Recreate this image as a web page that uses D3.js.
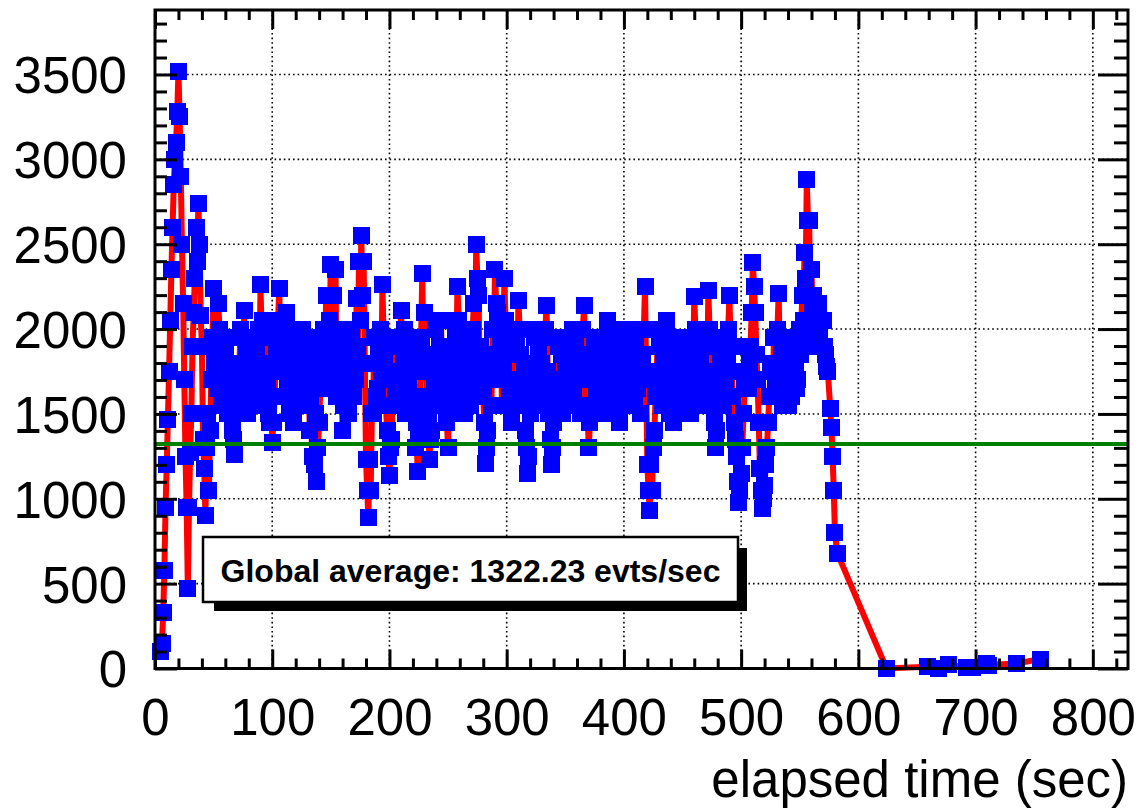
<!DOCTYPE html>
<html>
<head>
<meta charset="utf-8">
<script src="https://cdn.jsdelivr.net/npm/d3@7"></script>
<style>
  html, body { margin: 0; padding: 0; background: #fff; }
  svg { display: block; }
</style>
</head>
<body>
<script>
// event rate vs elapsed time
const times = [
  5, 6, 7, 8, 9, 10, 11, 12, 13, 14, 15, 16, 17, 18, 19, 20, 21, 22, 23, 24, 25, 26, 27, 28, 29,
  30, 31, 32, 33, 34, 35, 36, 37, 38, 39, 40, 41, 42, 43, 44, 45,
  46, 47, 48, 49, 50, 51, 52, 53, 54, 55, 56, 57, 58, 59, 60, 61, 62, 63, 64, 65,
  66, 67, 68, 69, 70, 71, 72, 73, 74, 75, 76, 77, 78, 79, 80, 81, 82, 83, 84, 85,
  86, 87, 88, 89, 90, 91, 92, 93, 94, 95, 96, 97, 98, 99, 100, 101, 102, 103, 104, 105,
  106, 107, 108, 109, 110, 111, 112, 113, 114, 115, 116, 117, 118, 119, 120, 121, 122, 123, 124, 125,
  126, 127, 128, 129, 130, 131, 132, 133, 134, 135, 136, 137, 138, 139, 140, 141, 142, 143, 144, 145,
  146, 147, 148, 149, 150, 151, 152, 153, 154, 155, 156, 157, 158, 159, 160, 161, 162, 163, 164, 165,
  166, 167, 168, 169, 170, 171, 172, 173, 174, 175, 176, 177, 178, 179, 180, 181, 182, 183, 184, 185,
  186, 187, 188, 189, 190, 191, 192, 193, 194, 195, 196, 197, 198, 199, 200, 201, 202, 203, 204, 205,
  206, 207, 208, 209, 210, 211, 212, 213, 214, 215, 216, 217, 218, 219, 220, 221, 222, 223, 224, 225,
  226, 227, 228, 229, 230, 231, 232, 233, 234, 235, 236, 237, 238, 239, 240, 241, 242, 243, 244, 245,
  246, 247, 248, 249, 250, 251, 252, 253, 254, 255, 256, 257, 258, 259, 260, 261, 262, 263, 264, 265,
  266, 267, 268, 269, 270, 271, 272, 273, 274, 275, 276, 277, 278, 279, 280, 281, 282, 283, 284, 285,
  286, 287, 288, 289, 290, 291, 292, 293, 294, 295, 296, 297, 298, 299, 300, 301, 302, 303, 304, 305,
  306, 307, 308, 309, 310, 311, 312, 313, 314, 315, 316, 317, 318, 319, 320, 321, 322, 323, 324, 325,
  326, 327, 328, 329, 330, 331, 332, 333, 334, 335, 336, 337, 338, 339, 340, 341, 342, 343, 344, 345,
  346, 347, 348, 349, 350, 351, 352, 353, 354, 355, 356, 357, 358, 359, 360, 361, 362, 363, 364, 365,
  366, 367, 368, 369, 370, 371, 372, 373, 374, 375, 376, 377, 378, 379, 380, 381, 382, 383, 384, 385,
  386, 387, 388, 389, 390, 391, 392, 393, 394, 395, 396, 397, 398, 399, 400, 401, 402, 403, 404, 405,
  406, 407, 408, 409, 410, 411, 412, 413, 414, 415, 416, 417, 418, 419, 420, 421, 422, 423, 424, 425,
  426, 427, 428, 429, 430, 431, 432, 433, 434, 435, 436, 437, 438, 439, 440, 441, 442, 443, 444, 445,
  446, 447, 448, 449, 450, 451, 452, 453, 454, 455, 456, 457, 458, 459, 460, 461, 462, 463, 464, 465,
  466, 467, 468, 469, 470, 471, 472, 473, 474, 475, 476, 477, 478, 479, 480, 481, 482, 483, 484, 485,
  486, 487, 488, 489, 490, 491, 492, 493, 494, 495, 496, 497, 498, 499, 500, 501, 502, 503, 504, 505,
  506, 507, 508, 509, 510, 511, 512, 513, 514, 515, 516, 517, 518, 519, 520, 521, 522, 523, 524, 525,
  526, 527, 528, 529, 530, 531, 532, 533, 534, 535, 536, 537, 538, 539, 540, 541, 542, 543, 544, 545,
  546, 547, 548, 549, 550, 551, 552, 553, 554, 555, 556, 557, 558, 559, 560, 561, 562, 563, 564, 565,
  566, 567, 568, 569, 570, 571, 572, 573, 574, 576, 577, 578, 579, 580, 582,
  624, 659, 668, 677, 692, 697, 709, 711, 735, 755
]
const rates = [
  100, 150, 330, 580, 950, 1200, 1470, 1750, 2050, 2350, 2600, 2850, 3000, 3100, 3280, 3520, 3250, 2900, 2500, 2150, 1700, 1250, 950, 470, 950,
  1270, 1500, 1900, 2100, 2300, 2600, 2400, 2740, 2500, 2080, 1900, 1350, 1180, 900, 1300, 1500,
  1050, 1400, 1700, 1950, 2240, 1800, 1900, 1650, 2150, 2000, 1750, 1550, 1600, 1750, 1850, 1950, 1500, 1600, 1650, 1800,
  1400, 1350, 1260, 1500, 1550, 1700, 1800, 2000, 1950, 1600, 2110, 1800, 1850, 1500, 1650, 1950, 1900, 1700, 1750, 1550,
  1550, 1850, 2000, 1700, 2260, 1950, 2050, 1600, 1800, 2000, 1650, 1500, 1450, 1750, 1330, 1450, 1600, 1800, 1900, 2050,
  2240, 1800, 2000, 1600, 1750, 1950, 2100, 1700, 1900, 1500, 1600, 1850, 1450, 2000, 1700, 1550, 1900, 1650, 1750, 1950,
  2000, 1650, 1800, 1950, 1550, 1750, 1400, 1600, 1250, 1850, 1200, 1500, 1100, 1300, 1450, 1650, 1700, 1900, 2000, 1800,
  2200, 1650, 1900, 2050, 2380, 1750, 2200, 1950, 2350, 1600, 1850, 2000, 1600, 1750, 1400, 1550, 1650, 1850, 1900, 1500,
  1750, 1950, 2000, 1600, 1850, 1700, 2180, 1900, 2400, 2050, 2550, 2200, 2400, 1800, 1230, 1050, 890, 1230, 1050, 1500,
  1500, 1950, 1800, 1600, 1650, 1850, 2000, 1700, 2260, 1950, 1800, 1550, 1400, 1250, 1140, 1300, 1350, 1900, 1700, 1600,
  1950, 1550, 1750, 1900, 2110, 1650, 1800, 2000, 1500, 1750, 1650, 1950, 1850, 1500, 1600, 1800, 1300, 1450, 1160, 1350,
  1500, 1950, 2330, 1750, 2100, 1850, 1600, 1500, 1230, 1350, 1400, 1800, 1650, 2000, 1850, 1550, 1700, 1900, 2050, 1650,
  1800, 1600, 1550, 1450, 1300, 1650, 1500, 1900, 1750, 1550, 2000, 1800, 2250, 2050, 1950, 1650, 1700, 1850, 1500, 1950,
  1650, 1800, 1900, 1550, 1750, 2000, 2150, 1850, 2500, 2300, 2200, 1750, 1900, 1650, 1600, 1450, 1210, 1300, 1400, 1850,
  1700, 1550, 2000, 1800, 2350, 2150, 2100, 1700, 1800, 1950, 1550, 1750, 2300, 2050, 1900, 1550, 1650, 1850, 1450, 1700,
  1700, 1850, 1950, 1600, 2170, 2000, 1850, 1550, 1650, 1750, 1400, 1300, 1150, 1250, 1500, 1650, 1800, 2000, 1950, 1600,
  1700, 1850, 1550, 1700, 1800, 1600, 1950, 2000, 2140, 1750, 1500, 1350, 1200, 1300, 1450, 1600, 1700, 1950, 1900, 1550,
  1650, 1850, 1500, 1700, 1800, 1550, 1950, 1650, 1750, 1900, 2000, 1600, 1800, 1950, 1550, 1750, 1850, 1500, 1700, 2000,
  2140, 1800, 1700, 1500, 1300, 1450, 1550, 1700, 1750, 1950, 1900, 1600, 1700, 1850, 1500, 1750, 1650, 1950, 1850, 1600,
  2050, 1700, 1800, 1950, 1600, 1500, 1800, 1650, 1650, 1900, 1450, 1750, 1600, 2000, 1800, 1550, 1950, 1850, 1700, 1600,
  1550, 1850, 1750, 1600, 1900, 2000, 1650, 1800, 1500, 1700, 1850, 2000, 2250, 1700, 1200, 1050, 930, 1200, 1050, 1300,
  1400, 1600, 1750, 2000, 1900, 1700, 1650, 1550, 1800, 1950, 2050, 1750, 1850, 1500, 1600, 1800, 1450, 1650, 1700, 1950,
  1850, 1550, 1650, 1800, 1950, 1700, 1750, 1600, 1550, 1900, 1800, 1500, 1950, 1750, 2190, 2000, 1850, 1700, 1600, 1850,
  1750, 1950, 1550, 1700, 1900, 1650, 2230, 2000, 1900, 1750, 1600, 1450, 1300, 1400, 1550, 1700, 1850, 1950, 1700, 1550,
  1950, 1650, 1800, 2000, 2200, 1900, 1750, 1600, 1450, 1350, 1250, 1100, 980, 1050, 1150, 1300, 1500, 1650, 1750, 1900,
  1650, 1800, 1900, 2100, 2390, 2250, 2100, 1850, 1700, 1450, 1180, 1050, 940, 1000, 1080, 1200, 1300, 1450, 1600, 1750,
  1800, 1600, 1950, 1700, 1750, 2000, 2210, 1800, 1900, 1550, 1650, 1950, 1850, 1650, 1550, 1800, 1750, 1600, 1950, 1700,
  1800, 1650, 1700, 1900, 2000, 1850, 2200, 2050, 2450, 2300, 2880, 2640, 2640, 2200, 2350, 2100, 2200, 1900, 2000, 2150,
  2150, 1950, 1900, 2050, 2050, 1900, 1850, 1780, 1750, 1530, 1420, 1250, 1050, 800, 680,
  0, 10, 0, 25, 3, 5, 30, 20, 30, 55
]
const globalAverage = 1322.23
const xTicks = [0, 100, 200, 300, 400, 500, 600, 700, 800]
const yTicks = [0, 500, 1000, 1500, 2000, 2500, 3000, 3500]
const legendText = 'Global average: 1322.23 evts/sec'
const xTitle = 'elapsed time (sec)'

const W = 1138, H = 811
const padL = 155, padR = 1128, padT = 10, padB = 668.5
const font = '"Liberation Sans", Arial, Helvetica, sans-serif'

const x = d3.scaleLinear().domain([0, 830]).range([padL, padR])
const y = d3.scaleLinear().domain([0, 3880]).range([padB, padT])

const svg = d3.select('body').append('svg')
  .attr('width', W)
  .attr('height', H)
  .style('background', '#fff')

// grid
const grid = svg.append('g')
  .attr('stroke', '#000')
  .attr('stroke-width', 1.6)
  .attr('stroke-dasharray', '1.6,3')
grid.selectAll('.gx').data(xTicks.filter(d => d > 0))
  .enter().append('line')
  .attr('x1', d => x(d)).attr('x2', d => x(d))
  .attr('y1', padT).attr('y2', padB)
grid.selectAll('.gy').data(yTicks.filter(d => d > 0))
  .enter().append('line')
  .attr('x1', padL).attr('x2', padR)
  .attr('y1', d => y(d)).attr('y2', d => y(d))

const pts = times.map((t, i) => [t, rates[i]])

svg.append('path')
  .datum(pts)
  .attr('fill', 'none')
  .attr('stroke', '#ff0000')
  .attr('stroke-width', 6)
  .attr('stroke-linejoin', 'miter')
  .attr('stroke-miterlimit', 2.5)
  .attr('d', d3.line().x(d => x(d[0])).y(d => y(d[1])))

const sq = 17
svg.append('g')
  .attr('shape-rendering', 'crispEdges')
  .selectAll('rect')
  .data(pts)
  .enter().append('rect')
  .attr('x', d => x(d[0]) - sq / 2)
  .attr('y', d => y(d[1]) - sq / 2)
  .attr('width', sq)
  .attr('height', sq)
  .attr('fill', '#0000ff')

// average line
svg.append('line')
  .attr('x1', padL).attr('x2', padR)
  .attr('y1', y(globalAverage)).attr('y2', y(globalAverage))
  .attr('stroke', '#008000')
  .attr('stroke-width', 4)

// axes, ticks pointing inward
function styleAxis(g) {
  g.select('.domain').remove()
  g.selectAll('line').attr('stroke', '#000').attr('stroke-width', 3)
  g.selectAll('text')
    .attr('fill', '#000')
    .style('font-family', font)
    .style('font-size', '51px')
}

const xMinor = d3.range(0, 831, 20).filter(d => d % 100 !== 0)
const yMinor = d3.range(0, 3881, 100).filter(d => d % 500 !== 0)

svg.append('g')
  .attr('transform', `translate(0,${padB})`)
  .call(d3.axisBottom(x).tickValues(xTicks).tickSize(-19).tickPadding(30).tickFormat(d3.format('d')))
  .call(styleAxis)
svg.append('g')
  .attr('transform', `translate(0,${padB})`)
  .call(d3.axisBottom(x).tickValues(xMinor).tickSize(-10).tickFormat(''))
  .call(styleAxis)
svg.append('g')
  .attr('transform', `translate(0,${padT})`)
  .call(d3.axisTop(x).tickValues(xTicks).tickSize(-19).tickFormat(''))
  .call(styleAxis)
svg.append('g')
  .attr('transform', `translate(0,${padT})`)
  .call(d3.axisTop(x).tickValues(xMinor).tickSize(-10).tickFormat(''))
  .call(styleAxis)

const yAxisG = svg.append('g')
  .attr('transform', `translate(${padL},0)`)
  .call(d3.axisLeft(y).tickValues(yTicks).tickSize(-22).tickPadding(28).tickFormat(d3.format('d')))
  .call(styleAxis)
yAxisG.selectAll('text').attr('dy', '0.36em')
svg.append('g')
  .attr('transform', `translate(${padL},0)`)
  .call(d3.axisLeft(y).tickValues(yMinor).tickSize(-12).tickFormat(''))
  .call(styleAxis)
svg.append('g')
  .attr('transform', `translate(${padR},0)`)
  .call(d3.axisRight(y).tickValues(yTicks).tickSize(-30).tickFormat(''))
  .call(styleAxis)
svg.append('g')
  .attr('transform', `translate(${padR},0)`)
  .call(d3.axisRight(y).tickValues(yMinor).tickSize(-14).tickFormat(''))
  .call(styleAxis)

// frame
svg.append('rect')
  .attr('x', padL).attr('y', padT)
  .attr('width', padR - padL).attr('height', padB - padT)
  .attr('fill', 'none')
  .attr('stroke', '#000')
  .attr('stroke-width', 3)

svg.append('text')
  .attr('x', padR)
  .attr('y', 797)
  .attr('text-anchor', 'end')
  .style('font-family', font)
  .style('font-size', '51px')
  .text(xTitle)

// legend box with shadow
const lg = svg.append('g')
lg.append('rect').attr('x', 214).attr('y', 548).attr('width', 533).attr('height', 63).attr('fill', '#000')
lg.append('rect')
  .attr('x', 203).attr('y', 537)
  .attr('width', 535).attr('height', 65)
  .attr('fill', '#fff')
  .attr('stroke', '#000')
  .attr('stroke-width', 2.5)
lg.append('text')
  .attr('x', 470.5)
  .attr('y', 582)
  .attr('text-anchor', 'middle')
  .style('font-family', font)
  .style('font-size', '32px')
  .style('font-weight', 'bold')
  .text(legendText)
</script>
</body>
</html>
